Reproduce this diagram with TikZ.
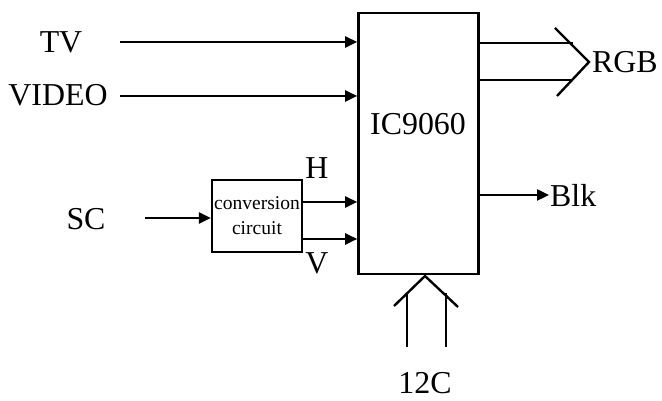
\documentclass[tikz,border=0pt]{standalone}
\usepackage{fontspec}
\setmainfont{Liberation Serif}
\usetikzlibrary{arrows.meta}

\begin{document}
\begin{tikzpicture}[x=0.5bp, y=-0.5bp, line width=1.2bp,
    sig/.style={-{Triangle[length=6bp,width=5.5bp]}},
    lbl/.style={font=\fontsize{16}{18}\selectfont, inner sep=0pt}]
  \useasboundingbox (0,0) rectangle (662,401);

  \node[draw, line width=1.3bp, minimum width=60bp, minimum height=130.5bp, inner sep=0pt] at (418.5,143.5) (ic) {};
  \node[lbl] at (418,124) (icname) {IC9060};
  \node[draw, line width=1.2bp, minimum width=45bp, minimum height=36bp, inner sep=0pt, align=center,
        font=\fontsize{9.8}{12.5}\selectfont] at (257,216) (conv) {conversion\\circuit};

  \node[lbl] at (61,42) (tv) {TV};
  \node[lbl] at (58,95) (video) {VIDEO};
  \node[lbl] at (86,219) (sc) {SC};
  \node[lbl] at (317,168) (h) {H};
  \node[lbl] at (317,263) (v) {V};
  \node[lbl, anchor=west] at (591,62) (rgb) {RGB};
  \node[lbl, anchor=west] at (549,195) (blk) {Blk};
  \node[lbl] at (425,383) (iic) {12C};

  \coordinate (tvin) at (120,42);
  \coordinate (vidin) at (120,96);
  \coordinate (scin) at (145,218);
  \coordinate (hout) at (302,202);
  \coordinate (vout) at (302,239);
  \coordinate (blkin) at (478,195);

  \draw[sig] (tvin) -- (tvin -| ic.west);
  \draw[sig] (vidin) -- (vidin -| ic.west);
  \draw[sig] (scin) -- (scin -| conv.west);
  \draw[sig] (hout) -- (hout -| ic.west);
  \draw[sig] (vout) -- (vout -| ic.west);
  \draw[sig] (blkin) -- (blk.west);

  \coordinate (rgba) at (478,43);
  \coordinate (rgbb) at (478,80);
  \draw (rgba) -- (573,43);
  \draw (rgbb) -- (573,80);
  \draw (555,28) -- (589,62) -- (557,96);

  \coordinate (iica) at (407,347);
  \coordinate (iicb) at (446,347);
  \draw (iica) -- (407,293);
  \draw (iicb) -- (446,293);
  \draw (394,306) -- (425,276) -- (458,307);
\end{tikzpicture}
\end{document}
